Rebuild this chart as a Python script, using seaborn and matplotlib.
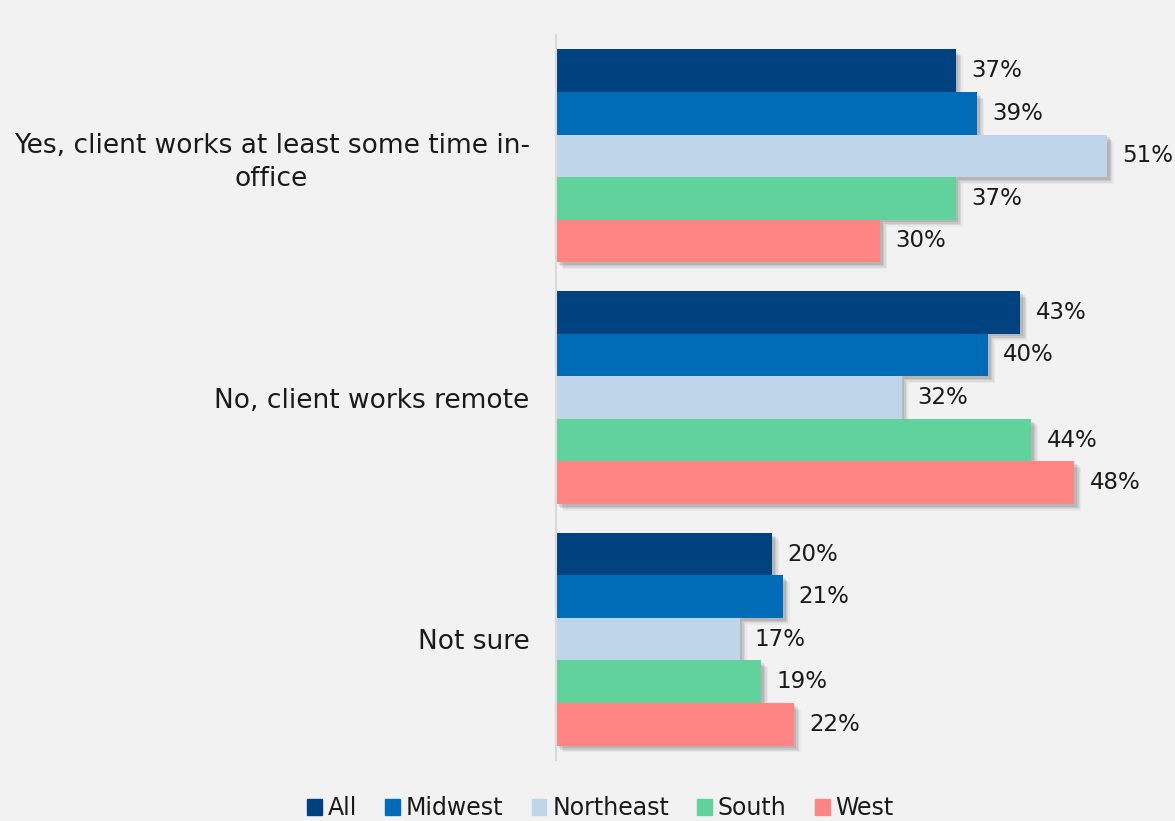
import matplotlib
matplotlib.use("Agg")
import matplotlib.pyplot as plt
import matplotlib.patheffects as pe
import seaborn as sns
import pandas as pd

categories = ["Yes, client works at least some time in-\noffice",
              "No, client works remote",
              "Not sure"]
regions = ["All", "Midwest", "Northeast", "South", "West"]
all_vals = [37, 43, 20]
midwest_vals = [39, 40, 21]
northeast_vals = [51, 32, 17]
south_vals = [37, 44, 19]
west_vals = [30, 48, 22]
colors = ["#00427f", "#006bb6", "#bed5ea", "#61d29c", "#ff8585"]

series = [all_vals, midwest_vals, northeast_vals, south_vals, west_vals]
rows = []
for reg, vals in zip(regions, series):
    for cat, v in zip(categories, vals):
        rows.append({"category": cat, "region": reg, "value": v})
df = pd.DataFrame(rows)

sns.set_theme(style="white")
plt.rcParams["font.family"] = ["DejaVu Sans"]
bg = "#f2f2f2"
txt = "#1a1a1a"
fs_tick = 19
fs_val = 16.5
fs_leg = 17

W, H = 1175, 821
fig = plt.figure(figsize=(W / 100, H / 100), dpi=100, facecolor=bg)
xmax = 57
px_per = 10.8
ax = fig.add_axes([556 / W, (H - 760) / H, xmax * px_per / W, 725 / H])
ax.set_facecolor(bg)

sns.barplot(data=df, y="category", x="value", hue="region",
            hue_order=regions, order=categories, palette=colors,
            width=0.88, gap=0, saturation=1, ax=ax, legend=False,
            errorbar=None)

# soft drop shadow built from a few stacked translucent offsets
shadow = [pe.SimplePatchShadow(offset=(d, -d), shadow_rgbFace="#333333", alpha=a)
          for d, a in [(5, 0.05), (4, 0.08), (3, 0.10), (2, 0.12)]]
shadow.append(pe.Normal())
for cont in ax.containers:
    for p in cont:
        p.set_path_effects(shadow)
        p.set_edgecolor("none")
    ax.bar_label(cont, labels=[f"{int(v)}%" for v in cont.datavalues],
                 padding=11, fontsize=fs_val, color=txt)

ax.set_xlim(0, xmax)
ax.set_ylim(2.5, -0.5)
ax.set_xlabel("")
ax.set_ylabel("")
ax.set_xticks([])
ax.tick_params(axis="y", length=0, pad=19)
for lab in ax.get_yticklabels():
    lab.set_fontsize(fs_tick)
    lab.set_color(txt)
    lab.set_multialignment("center")
    lab.set_linespacing(1.38)
for s in ["top", "right", "bottom"]:
    ax.spines[s].set_visible(False)
ax.spines["left"].set_color("#d9d9d9")
ax.spines["left"].set_linewidth(1.5)

handles = [plt.Rectangle((0, 0), 1, 1, color=c) for c in colors]
fig.legend(handles, regions, loc="lower center", bbox_to_anchor=(0.511, -0.025),
           ncol=5, frameon=False, fontsize=fs_leg, handlelength=0.62, handleheight=0.62,
           handletextpad=0.25, columnspacing=1.2, labelcolor=txt)

fig.savefig("out.png", dpi=100, facecolor=bg)
